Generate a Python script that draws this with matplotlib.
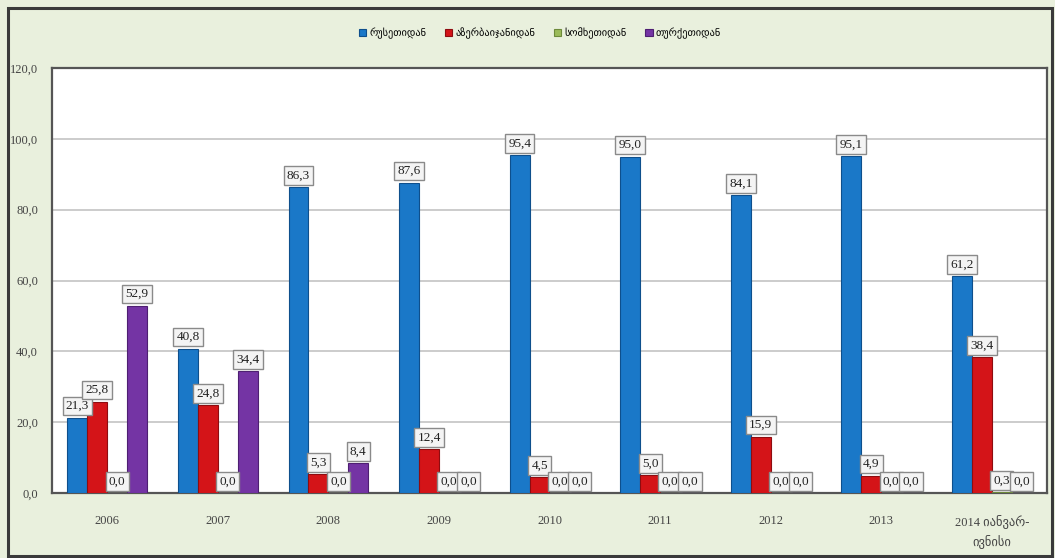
import numpy as np
import matplotlib.pyplot as plt
from matplotlib.patches import Rectangle

# import shares by source country, per year
years = ["2006", "2007", "2008", "2009", "2010", "2011", "2012", "2013",
         "2014 იანვარ-\nივნისი"]
series_names = ["რუსეთიდან", "აზერბაიჯანიდან", "სომხეთიდან", "თურქეთიდან"]
russia = [21.3, 40.8, 86.3, 87.6, 95.4, 95.0, 84.1, 95.1, 61.2]
azerbaijan = [25.8, 24.8, 5.3, 12.4, 4.5, 5.0, 15.9, 4.9, 38.4]
armenia = [0.0, 0.0, 0.0, 0.0, 0.0, 0.0, 0.0, 0.0, 0.3]
turkey = [52.9, 34.4, 8.4, 0.0, 0.0, 0.0, 0.0, 0.0, 0.0]
colors = ["#1a78c8", "#d41418", "#9bbb59", "#7434a4"]
edges = ["#0e4f8c", "#8e0c10", "#6d8a3a", "#4e1f72"]

serif = "Liberation Serif"

fig = plt.figure(figsize=(10.55, 5.58), dpi=100)
fig.patch.set_facecolor("#e9f0dd")
fig.patches.append(Rectangle((8 / 1055, 2 / 558), 1044 / 1055, 548 / 558,
                             transform=fig.transFigure, fill=False,
                             edgecolor="#3a3a3a", linewidth=2.2))

ax = fig.add_axes([52 / 1055, 65 / 558, 995 / 1055, 425 / 558])
ax.set_facecolor("white")

x = np.arange(len(years))
w = 0.18
data = [russia, azerbaijan, armenia, turkey]
for i, vals in enumerate(data):
    pos = x + (i - 1.5) * w
    ax.bar(pos, vals, width=w, color=colors[i], edgecolor=edges[i],
           linewidth=0.8, label=series_names[i], zorder=3)
    for xp, v in zip(pos, vals):
        ax.annotate(f"{v:.1f}".replace(".", ","), (xp, v),
                    xytext=(0, 4), textcoords="offset points",
                    ha="center", va="bottom", fontsize=9.5, family=serif,
                    color="#222222", zorder=5,
                    bbox=dict(boxstyle="square,pad=0.25", fc="#f4f4f4",
                              ec="#8a8a8a", lw=1.0))

ax.set_xlim(-0.5, len(years) - 0.5)
ax.set_ylim(0, 120)
ax.set_yticks(np.arange(0, 121, 20))
ax.set_yticklabels([f"{t:.1f}".replace(".", ",") for t in range(0, 121, 20)],
                   family=serif, fontsize=9, color="#444444")
ax.set_xticks(x)
ax.set_xticklabels(years, family=[serif, "DejaVu Sans"], fontsize=9,
                   color="#444444", linespacing=1.5)
ax.tick_params(axis="y", length=0, pad=10)
ax.tick_params(axis="x", length=0, pad=16)
ax.grid(axis="y", color="#c4c4c4", linewidth=1.2, zorder=0)
for s in ax.spines.values():
    s.set_color("#555555")
    s.set_linewidth(1.6)

fig.legend(loc="center", bbox_to_anchor=(540 / 1055, 1 - 33 / 558), ncol=4,
           frameon=False, fontsize=7.5, handlelength=0.7, handleheight=0.7,
           handletextpad=0.3, columnspacing=1.8)

fig.savefig("out.png", dpi=100, facecolor=fig.get_facecolor())
